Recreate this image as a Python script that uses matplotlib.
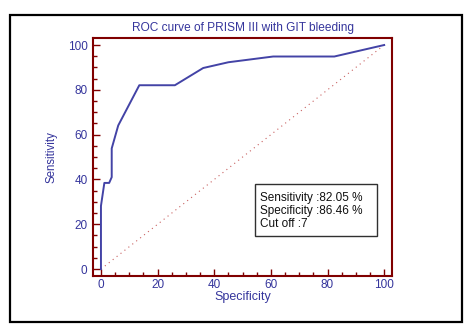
import numpy as np
import matplotlib.pyplot as plt
from matplotlib.patches import Rectangle
from matplotlib.ticker import MultipleLocator

plt.rcParams['font.family'] = ['Liberation Sans', 'DejaVu Sans']

# ROC points: 100 - specificity vs sensitivity (%)
fpr = [0, 0, 1.2, 2.9, 3.8, 3.8, 6.1, 13.54, 26.1, 36.1, 45.0, 60.8, 82.4, 100]
tpr = [0, 28.2, 38.46, 38.46, 41.03, 53.85, 64.1, 82.05, 82.05, 89.74, 92.31, 94.87, 94.87, 100]
diag = [0, 100]

title = "ROC curve of PRISM III with GIT bleeding"
stats = ["Sensitivity :82.05 %", "Specificity :86.46 %", "Cut off :7"]

blue = '#35359c'
curve_col = '#4343a6'
spine_col = '#800000'

fig = plt.figure(figsize=(4.71, 3.31), dpi=100)
ax = fig.add_axes([0.1975, 0.166, 0.635, 0.719])

ax.plot(diag, diag, color='#c86060', lw=0.8, linestyle=(0, (1, 3.5)))
ax.plot(fpr, tpr, color=curve_col, lw=1.4)

ax.set_xlim(-2.8, 102.8)
ax.set_ylim(-3.1, 103.1)
ax.xaxis.set_major_locator(MultipleLocator(20))
ax.xaxis.set_minor_locator(MultipleLocator(5))
ax.yaxis.set_major_locator(MultipleLocator(20))
ax.yaxis.set_minor_locator(MultipleLocator(5))
ax.tick_params(which='both', direction='in', color=spine_col, width=1,
               labelcolor=blue, labelsize=8.5)
ax.tick_params(which='major', length=5)
ax.tick_params(which='minor', length=3)
ax.tick_params(axis='y', pad=4)
ax.tick_params(axis='x', pad=2)
for s in ax.spines.values():
    s.set_color(spine_col)
    s.set_linewidth(1.5)

# stats box
ax.add_patch(Rectangle((0.542, 0.168), 0.408, 0.219, transform=ax.transAxes,
                       fill=False, edgecolor='#303030', lw=1))
for yy, s in zip([0.328, 0.273, 0.218], stats):
    ax.text(0.559, yy, s, transform=ax.transAxes, ha='left', va='center',
            fontsize=8.5, color='#101010')

fig.text(243 / 471, 1 - 28 / 331, title, ha='center', va='center',
         fontsize=8.6, color=blue)
fig.text(243 / 471, 1 - 297 / 331, "Specificity", ha='center', va='center',
         fontsize=9, color=blue)
fig.text(52 / 471, 1 - 157 / 331, "Sensitivity", ha='center', va='center',
         rotation=90, fontsize=8.3, color=blue)

# outer frame
fig.add_artist(Rectangle((0.021, 0.027), 0.96, 0.928, transform=fig.transFigure,
                         fill=False, edgecolor='black', lw=1.6))

fig.savefig('out.png', dpi=100)
